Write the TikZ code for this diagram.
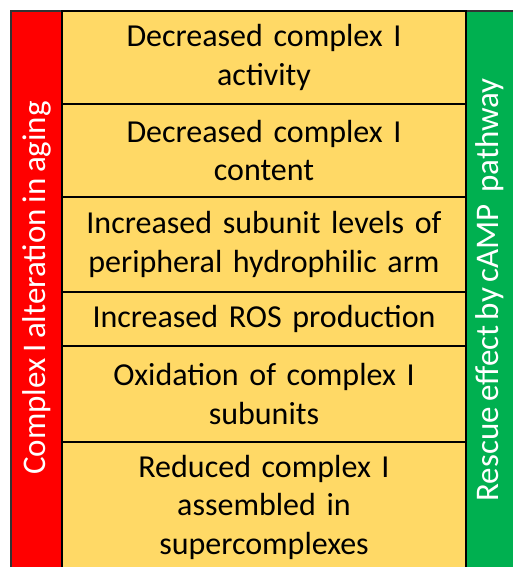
\documentclass[tikz,border=0pt]{standalone}
\usepackage{fontspec}
\setmainfont[WordSpace=0.75]{Carlito}
\definecolor{redc}{HTML}{FF0000}
\definecolor{yelc}{HTML}{FFD966}
\definecolor{grnc}{HTML}{00B050}
\tikzset{
  rowbox/.style={draw=black, line width=1.3pt, fill=yelc, minimum width=404pt, text width=400pt, align=center, inner sep=0pt, font=\fontsize{32}{38.5}\selectfont, text=black},
  sidebar/.style={draw=black!80, line width=1.3pt, inner sep=0pt},
  sidetext/.style={rotate=90, text=white, font=\fontsize{33}{38}\selectfont, inner sep=0pt}
}
\begin{document}
\begin{tikzpicture}[x=1pt,y=-1pt]
\useasboundingbox (0,0) rectangle (513,567);
\clip (0,0) rectangle (513,567);
\fill[white] (0,0) rectangle (513,567);
\node[sidebar, fill=redc, minimum width=51pt, minimum height=561pt] (left) at (36.5,291.5) {};
\node[sidebar, fill=grnc, minimum width=49pt, minimum height=561pt] (right) at (490.5,291.5) {};
\node[rowbox, minimum height=93pt] (r1) at (264,57.5) {Decreased complex I\\activity};
\node[rowbox, minimum height=93pt] (r2) at (264,150.5) {Decreased complex I\\content};
\node[rowbox, minimum height=95pt] (r3) at (264,244.5) {Increased subunit levels of\\peripheral hydrophilic arm};
\node[rowbox, minimum height=54pt] (r4) at (264,319) {Increased ROS production};
\node[rowbox, minimum height=96pt] (r5) at (264,394) {Oxidation of complex I\\subunits};
\node[rowbox, minimum height=130pt] (r6) at (264,507) {Reduced complex I\\assembled in\\supercomplexes};
\node[sidetext] (lt) at (37,288) {Complex I alteration in aging};
\node[sidetext] (rt) at (490,290) {Rescue effect by cAMP\ \ pathway};
\end{tikzpicture}
\end{document}
